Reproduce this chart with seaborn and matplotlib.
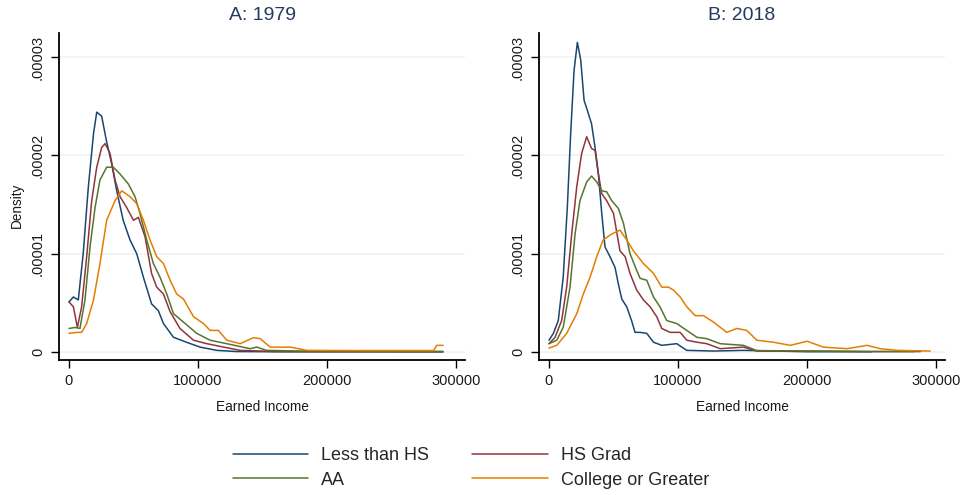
import numpy as np
import pandas as pd
import matplotlib as mpl
mpl.use('Agg')
import matplotlib.pyplot as plt
from matplotlib.lines import Line2D
import seaborn as sns

# groups and colours (Stata s2color-ish)
groups = ["Less than HS", "HS Grad", "AA", "College or Greater"]
colors = ["#1a476f", "#90353b", "#55752f", "#e37e00"]

# ---- panel A: 1979 (density values in 1e-6) ----
x_lths_79 = [0, 3400, 7200, 11000, 15000, 19000, 21500, 25300, 29000, 33000, 37000, 42000, 47300,
             52500, 57700, 64000, 69300, 73200, 81000, 91000, 101700, 114600, 130000, 160000,
             200000, 250000, 290000]
d_lths_79 = [5.1, 5.6, 5.3, 10.0, 16.8, 22.2, 24.4, 24.0, 21.5, 19.2, 16.4, 13.4, 11.4,
             10.0, 7.6, 4.9, 4.2, 2.9, 1.5, 1.0, 0.5, 0.17, 0.05, 0.03,
             0.02, 0.02, 0.02]

x_hs_79 = [0, 3400, 6500, 9800, 13700, 17600, 21500, 25300, 28000, 31800, 35700, 39600, 44700,
           50000, 53800, 59000, 64000, 68000, 73200, 78400, 86000, 96500, 106800, 120000,
           132700, 160000, 200000, 250000, 290000]
d_hs_79 = [5.1, 4.6, 2.5, 4.6, 9.7, 15.4, 18.8, 20.8, 21.2, 20.2, 17.5, 15.8, 14.7,
           13.4, 13.7, 11.7, 8.0, 6.6, 5.9, 4.1, 2.4, 1.2, 0.85, 0.5,
           0.17, 0.05, 0.05, 0.05, 0.05]

x_aa_79 = [0, 4700, 8500, 12400, 16300, 20200, 24000, 29200, 34400, 39600, 46000, 51200, 55000,
           60250, 65400, 70600, 75800, 81000, 88700, 99000, 109400, 122300, 140400, 145600,
           153000, 180000, 220000, 260000, 290000]
d_aa_79 = [2.4, 2.5, 2.4, 5.3, 10.7, 14.7, 17.5, 18.8, 18.8, 18.1, 17.1, 15.8, 14.1,
           11.4, 9.0, 7.6, 5.9, 3.9, 3.05, 1.9, 1.2, 0.85, 0.34, 0.5,
           0.17, 0.1, 0.1, 0.05, 0.05]

x_col_79 = [0, 6000, 9800, 13700, 19000, 24000, 29200, 35700, 40900, 47300, 52500, 57700, 62800,
            68000, 73200, 78400, 83500, 88700, 96500, 104200, 109400, 115800, 122300, 132700,
            143000, 148200, 156000, 171400, 184400, 220000, 260000, 282700, 285000, 290000]
d_col_79 = [1.9, 2.0, 2.0, 2.9, 5.3, 9.0, 13.4, 15.4, 16.4, 15.8, 15.1, 13.4, 11.4,
            9.7, 9.0, 7.3, 5.9, 5.4, 3.6, 2.9, 2.2, 2.2, 1.2, 0.85,
            1.46, 1.36, 0.5, 0.5, 0.17, 0.15, 0.15, 0.15, 0.68, 0.68]

# ---- panel B: 2018 ----
x_lths_18 = [0, 3400, 7200, 11000, 14200, 16800, 19400, 22000, 24600, 27200, 29700, 33000, 35700,
             38300, 40900, 43400, 47300, 51200, 53800, 56400, 60250, 64000, 66700, 70600,
             75800, 81000, 87400, 99000, 106800, 127500, 150800, 200000, 250000]
d_lths_18 = [1.2, 1.9, 3.2, 7.6, 14.7, 22.2, 28.6, 31.5, 29.7, 25.6, 24.6, 23.2, 20.8,
             18.1, 14.1, 10.7, 9.7, 8.6, 6.9, 5.4, 4.6, 3.2, 2.0, 2.0,
             1.9, 1.0, 0.68, 0.85, 0.17, 0.1, 0.17, 0.03, 0.03]

x_hs_18 = [0, 4700, 9800, 13700, 17600, 21500, 25300, 29200, 33000, 35700, 38300, 40900, 44700,
           50000, 55000, 59000, 62800, 68000, 73200, 78400, 83500, 87400, 93900, 101700,
           106800, 114600, 122300, 132700, 150800, 161000, 200000, 250000, 288000]
d_hs_18 = [0.85, 1.5, 3.2, 6.6, 12.0, 16.8, 20.2, 21.9, 20.7, 20.5, 18.1, 16.1, 15.4,
           14.1, 10.3, 9.7, 8.0, 6.3, 5.3, 4.6, 3.6, 2.4, 2.0, 2.0,
           1.2, 1.0, 0.85, 0.34, 0.5, 0.1, 0.1, 0.05, 0.05]

x_aa_18 = [0, 6000, 11000, 16300, 20200, 24000, 29200, 33000, 37000, 40900, 44700, 48600, 53800,
           57700, 62800, 68000, 70600, 75800, 81000, 86000, 91300, 99000, 106800, 114600,
           122300, 132700, 150800, 161000, 200000, 250000, 283000]
d_aa_18 = [0.85, 1.2, 2.5, 6.6, 12.0, 15.4, 17.3, 17.9, 17.3, 16.4, 16.3, 15.4, 14.6,
           13.1, 10.0, 8.3, 7.5, 7.3, 5.6, 4.6, 3.2, 2.9, 2.2, 1.5,
           1.36, 0.85, 0.68, 0.15, 0.1, 0.05, 0.05]

x_col_18 = [0, 6000, 13700, 21500, 26600, 31800, 37000, 42000, 48600, 55000, 60250, 65400, 73200,
            81000, 87400, 92600, 96500, 101700, 106800, 113300, 119700, 127500, 137800, 145600,
            153300, 161100, 174000, 187000, 200000, 212800, 231000, 246500, 256800, 270000, 295600]
d_col_18 = [0.4, 0.68, 1.9, 3.9, 5.9, 7.6, 9.7, 11.4, 12.0, 12.4, 11.4, 10.3, 9.0,
            8.0, 6.6, 6.6, 6.3, 5.6, 4.6, 3.7, 3.7, 3.05, 2.0, 2.4,
            2.2, 1.2, 1.0, 0.68, 1.1, 0.5, 0.34, 0.68, 0.34, 0.17, 0.1]

panels = {
    "A: 1979": [(x_lths_79, d_lths_79), (x_hs_79, d_hs_79), (x_aa_79, d_aa_79), (x_col_79, d_col_79)],
    "B: 2018": [(x_lths_18, d_lths_18), (x_hs_18, d_hs_18), (x_aa_18, d_aa_18), (x_col_18, d_col_18)],
}

yticks = [0, 0.00001, 0.00002, 0.00003]
yticklabels = ["0", ".00001", ".00002", ".00003"]
xticks = [0, 100000, 200000, 300000]


def long_df(series):
    rows = []
    for g, (xs, ds) in zip(groups, series):
        for i, (x, d) in enumerate(zip(xs, ds)):
            rows.append([g, i, x, d * 1e-6])
    return pd.DataFrame(rows, columns=["group", "order", "income", "density"])


sns.set_style("white")
plt.rcParams['font.family'] = ['Liberation Sans', 'DejaVu Sans']

fig = plt.figure(figsize=(9.63, 4.95), dpi=100)
axes = [fig.add_axes([59 / 963, 1 - 360 / 495, 406 / 963, 327 / 495]),
        fig.add_axes([539 / 963, 1 - 360 / 495, 406 / 963, 327 / 495])]

for k, (ax, (title, series)) in enumerate(zip(axes, panels.items())):
    df = long_df(series)
    for yv in yticks:
        ax.axhline(yv, color="#eaf2f3", lw=1.1, zorder=0)
    sns.lineplot(data=df, x="income", y="density", hue="group", hue_order=groups,
                 palette=colors, estimator=None, sort=False, units="group",
                 linewidth=1.1, legend=False, ax=ax)
    ax.set_xlim(-7750, 306977)
    ax.set_ylim(-0.81e-6, 3.245e-5)
    ax.set_xticks(xticks)
    ax.set_xticklabels([str(v) for v in xticks], fontsize=10.5)
    ax.set_yticks(yticks)
    ax.set_yticklabels(yticklabels, fontsize=10.5, rotation=90, va="center")
    ax.tick_params(axis="both", direction="out", length=6, width=1, color="black", pad=4,
                   left=True, bottom=True, labelcolor="#1a1a1a")
    for s in ["top", "right"]:
        ax.spines[s].set_visible(False)
    for s in ["left", "bottom"]:
        ax.spines[s].set_color("black")
        ax.spines[s].set_linewidth(1.3)
    ax.set_title(title, fontsize=14, color="#243a5e", pad=9)
    ax.set_xlabel("Earned Income", fontsize=9.8, color="#1a1a1a")
    ax.xaxis.set_label_coords(0.502, -0.122)
    if k == 0:
        ax.set_ylabel("Density", fontsize=9.8, color="#1a1a1a")
        ax.yaxis.set_label_coords(-0.086, 0.474)
    else:
        ax.set_ylabel("")

# legend filled row by row, like Stata
order = [0, 2, 1, 3]
handles = [Line2D([0], [0], color=colors[i], lw=1.1) for i in order]
labels = [groups[i] for i in order]
fig.legend(handles, labels, loc="center", bbox_to_anchor=(0.489, 1 - 468 / 495), ncol=2,
           frameon=False, fontsize=13, handlelength=4.2, handletextpad=0.7,
           columnspacing=2.4, labelspacing=0.4)

fig.savefig("out.png", dpi=100, facecolor="white")
